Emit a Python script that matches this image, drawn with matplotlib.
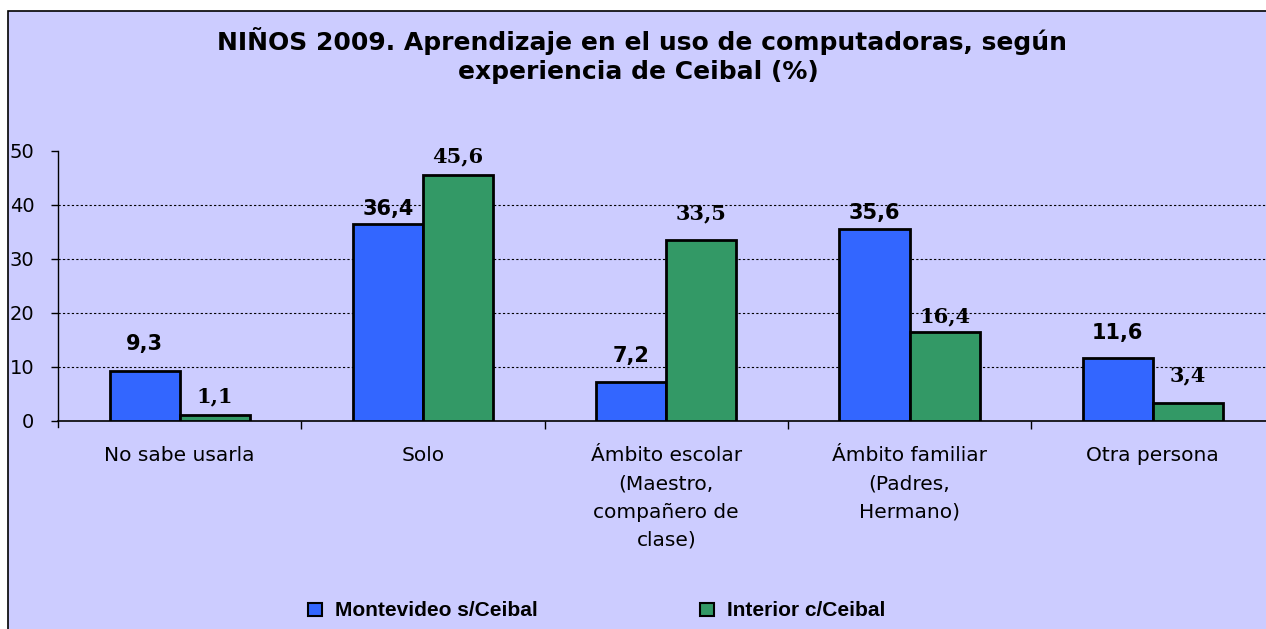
import matplotlib
matplotlib.use("Agg")
import matplotlib.pyplot as plt
import matplotlib.patches as mpatches
import numpy as np

# data
categories = ["No sabe usarla", "Solo", "Ámbito escolar\n(Maestro,\ncompañero de\nclase)",
              "Ámbito familiar\n(Padres,\nHermano)", "Otra persona"]
montevideo = [9.3, 36.4, 7.2, 35.6, 11.6]
interior = [1.1, 45.6, 33.5, 16.4, 3.4]
series_names = ["Montevideo s/Ceibal", "Interior c/Ceibal"]
yticks = [0, 10, 20, 30, 40, 50]

# layout (pixel offsets of value labels above bars)
off_mvd = [27, 15, 26, 16, 25]
off_int = [19, 18, 27, 16, 27]

BG = "#CCCCFF"
BLUE = "#3366FF"
GREEN = "#339966"
W, H = 1266, 629

fig = plt.figure(figsize=(W / 100, H / 100), dpi=100)
fig.patch.set_facecolor("white")

# background axes holding the bordered chart area (cropped at right/bottom)
bg = fig.add_axes([0, 0, 1, 1], zorder=0)
bg.set_xlim(0, W)
bg.set_ylim(H, 0)
bg.axis("off")
bg.add_patch(mpatches.Rectangle((8, 11), W + 20, H + 20, facecolor=BG,
                                edgecolor="black", linewidth=1.2, clip_on=False))

ax = fig.add_axes([58 / W, (H - 421) / H, 1216.5 / W, 270 / H], zorder=1)
ax.set_facecolor("none")

x = np.arange(len(categories))
bw = 0.288
b1 = ax.bar(x - bw / 2, montevideo, bw, color=BLUE, edgecolor="black", linewidth=2, zorder=3)
b2 = ax.bar(x + bw / 2, interior, bw, color=GREEN, edgecolor="black", linewidth=2, zorder=3)

ax.set_xlim(-0.5, len(categories) - 0.5)
ax.set_ylim(0, 50)

for g in yticks[1:-1]:
    ax.axhline(g, color="black", linestyle=(0, (2, 2)), linewidth=0.8, zorder=1)

for s in ["top", "right"]:
    ax.spines[s].set_visible(False)
ax.spines["left"].set_linewidth(1)
ax.spines["bottom"].set_linewidth(1.2)
ax.spines["left"].set_bounds(-1.2, 50)

ax.set_yticks(yticks)
ax.set_yticklabels([str(v) for v in yticks], fontsize=14, family="DejaVu Sans")
ax.tick_params(axis="y", length=5, width=1, pad=12)

ax.set_xticks(x)
ax.set_xticklabels(categories, fontsize=14.5, family="DejaVu Sans", linespacing=1.62,
                   va="top")
ax.tick_params(axis="x", length=0, pad=18)
ax.set_xticks(np.arange(len(categories) - 1) + 0.5, minor=True)
ax.tick_params(axis="x", which="minor", length=6, width=1)

for i, (rect, v) in enumerate(zip(b1, montevideo)):
    ax.annotate(f"{v:.1f}".replace(".", ","), (rect.get_x() + rect.get_width() / 2, v),
                xytext=(0, off_mvd[i] * 0.72), textcoords="offset points",
                ha="center", va="center", fontsize=15, fontweight="bold",
                family="DejaVu Sans")
for i, (rect, v) in enumerate(zip(b2, interior)):
    ax.annotate(f"{v:.1f}".replace(".", ","), (rect.get_x() + rect.get_width() / 2, v),
                xytext=(0, off_int[i] * 0.72), textcoords="offset points",
                ha="center", va="center", fontsize=15, fontweight="bold",
                family="DejaVu Serif")

fig.text(642 / W, 1 - 41 / H, "NIÑOS 2009. Aprendizaje en el uso de computadoras, según",
         ha="center", va="center", fontsize=18, fontweight="bold", family="DejaVu Sans")
fig.text(638 / W, 1 - 72 / H, "experiencia de Ceibal (%)",
         ha="center", va="center", fontsize=18, fontweight="bold", family="DejaVu Sans")

# legend, laid out by hand to follow the original spacing
leg_font = {"family": "Liberation Sans", "weight": "bold", "size": 15}
for name, col, sx in zip(series_names, [BLUE, GREEN], [308, 700]):
    bg.add_patch(mpatches.Rectangle((sx, 603), 14, 13, facecolor=col,
                                    edgecolor="black", linewidth=1.5))
    bg.text(sx + 27, 610, name, ha="left", va="center", fontdict=leg_font)

fig.savefig("out.png", dpi=100)
